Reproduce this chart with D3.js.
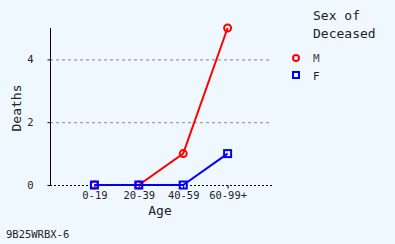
<html>
<head>
<script src="https://d3js.org/d3.v7.min.js"></script>
<style>
  body { margin: 0; background: #f0f8ff; }
</style>
</head>
<body>
<svg width="395" height="244"></svg>
<script>
const ages = ["0-19", "20-39", "40-59", "60-99+"];
const male = [0, 0, 1, 5];
const female = [0, 0, 0, 1];
const yTicks = [0, 2, 4];

const mono = "'DejaVu Sans Mono', monospace";
const svg = d3.select("svg").attr("font-family", mono);
svg.append("rect").attr("width", 395).attr("height", 244).attr("fill", "#f0f8ff");

const pLeft = 50, pRight = 272, pTop = 28, pBottom = 185;
const x = d3.scalePoint().domain(ages).range([pLeft, pRight]).padding(1);
const y = d3.scaleLinear().domain([0, 5]).range([pBottom, pTop]);

// grid lines
svg.append("g").selectAll("line").data(yTicks).enter().append("line")
  .attr("x1", pLeft).attr("x2", pRight)
  .attr("y1", d => y(d) + 0.5).attr("y2", d => y(d) + 0.5)
  .attr("stroke", d => d === 0 ? "#000" : "#888")
  .attr("stroke-width", 1)
  .attr("stroke-dasharray", d => d === 0 ? "2,2" : "3,3");

// y axis
const ya = svg.append("g").attr("transform", "translate(" + (pLeft + 0.5) + ",0)")
  .call(d3.axisLeft(y).tickValues(yTicks).tickFormat(d3.format("d")).tickSize(3).tickPadding(14));
ya.attr("font-family", mono);
ya.select(".domain").attr("d", "M0," + pTop + "V" + pBottom).attr("stroke", "#000");
ya.selectAll("text").style("font-size", "10.5px").attr("fill", "#222");

// x axis
const xa = svg.append("g").attr("transform", "translate(0," + (pBottom + 0.5) + ")")
  .call(d3.axisBottom(x).tickSize(3).tickPadding(3));
xa.attr("font-family", mono);
xa.select(".domain").remove();
xa.selectAll("text").style("font-size", "10.5px").attr("fill", "#222");

svg.append("text").attr("x", 160).attr("y", 215).attr("text-anchor", "middle")
  .style("font-size", "13px").attr("fill", "#222").text("Age");
svg.append("text").attr("transform", "translate(21,108) rotate(-90)").attr("text-anchor", "middle")
  .style("font-size", "13px").attr("fill", "#222").text("Deaths");

const line = d3.line().x((d, i) => x(ages[i])).y(d => y(d));

function series(vals, color, shape) {
  svg.append("path").datum(vals).attr("d", line)
    .attr("fill", "none").attr("stroke", color).attr("stroke-width", 2);
  const g = svg.append("g");
  vals.forEach((v, i) => {
    if (shape === "circle") {
      g.append("circle").attr("cx", x(ages[i])).attr("cy", y(v)).attr("r", 3.5)
        .attr("fill", "none").attr("stroke", color).attr("stroke-width", 2);
    } else {
      g.append("rect").attr("x", x(ages[i]) - 3.5).attr("y", y(v) - 3.5)
        .attr("width", 7).attr("height", 7)
        .attr("fill", "none").attr("stroke", color).attr("stroke-width", 2);
    }
  });
}
series(male, "#ff0000", "circle");
series(female, "#0000ff", "square");

// legend
svg.append("text").attr("x", 313).attr("y", 20).style("font-size", "13px").attr("fill", "#222").text("Sex of");
svg.append("text").attr("x", 313).attr("y", 38).style("font-size", "13px").attr("fill", "#222").text("Deceased");
svg.append("circle").attr("cx", 296).attr("cy", 58).attr("r", 3).attr("fill", "none").attr("stroke", "#ff0000").attr("stroke-width", 2);
svg.append("rect").attr("x", 293).attr("y", 72).attr("width", 6).attr("height", 6).attr("fill", "none").attr("stroke", "#0000ff").attr("stroke-width", 2);
svg.append("text").attr("x", 313).attr("y", 62).style("font-size", "11px").attr("fill", "#444").text("M");
svg.append("text").attr("x", 313).attr("y", 80).style("font-size", "11px").attr("fill", "#222").text("F");

svg.append("text").attr("x", 6).attr("y", 238).style("font-size", "10.5px").attr("fill", "#222").text("9B25WRBX-6");
</script>
</body>
</html>
